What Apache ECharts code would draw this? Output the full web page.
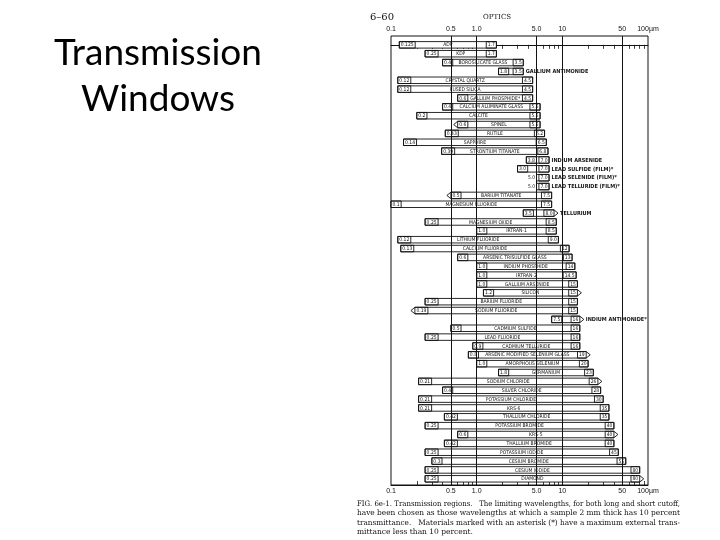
<!DOCTYPE html>
<html>
<head>
<meta charset="utf-8">
<script src="https://cdn.jsdelivr.net/npm/echarts@6/dist/echarts.min.js"></script>
<style>
html, body { margin: 0; padding: 0; background: #fff; }
#main { width: 720px; height: 540px; }
</style>
</head>
<body>
<div id="main"></div>
<script>
// transmission regions, wavelengths in micrometres
var materials = ['ADP', 'KDP', 'BOROSILICATE GLASS', 'GALLIUM ANTIMONIDE', 'CRYSTAL QUARTZ', 'FUSED SILICA',
    'GALLIUM PHOSPHIDE*', 'CALCIUM ALUMINATE GLASS', 'CALCITE', 'SPINEL', 'RUTILE', 'SAPPHIRE',
    'STRONTIUM TITANATE', 'INDIUM ARSENIDE', 'LEAD SULFIDE (FILM)*', 'LEAD SELENIDE (FILM)*',
    'LEAD TELLURIDE (FILM)*', 'BARIUM TITANATE', 'MAGNESIUM FLUORIDE', 'TELLURIUM', 'MAGNESIUM OXIDE',
    'IRTRAN-1', 'LITHIUM FLUORIDE', 'CALCIUM FLUORIDE', 'ARSENIC TRISULFIDE GLASS', 'INDIUM PHOSPHIDE',
    'IRTRAN-2', 'GALLIUM ARSENIDE', 'SILICON', 'BARIUM FLUORIDE', 'SODIUM FLUORIDE', 'INDIUM ANTIMONIDE*',
    'CADMIUM SULFIDE', 'LEAD FLUORIDE', 'CADMIUM TELLURIDE', 'ARSENIC MODIFIED SELENIUM GLASS',
    'AMORPHOUS SELENIUM', 'GERMANIUM', 'SODIUM CHLORIDE', 'SILVER CHLORIDE', 'POTASSIUM CHLORIDE', 'KRS-6',
    'THALLIUM CHLORIDE', 'POTASSIUM BROMIDE', 'KRS-5', 'THALLIUM BROMIDE', 'POTASSIUM IODIDE',
    'CESIUM BROMIDE', 'CESIUM IODIDE', 'DIAMOND'];
var lowCut = [0.125, 0.25, 0.4, 1.8, 0.12, 0.12, 0.6, 0.4, 0.2, 0.6, 0.43, 0.14, 0.39, 3.8, 3.0, 5.0, 5.0,
    0.5, 0.1, 3.5, 0.25, 1.0, 0.12, 0.13, 0.6, 1.0, 1.0, 1.0, 1.2, 0.25, 0.19, 7.5, 0.5, 0.25, 0.9, 0.8,
    1.0, 1.8, 0.21, 0.4, 0.21, 0.21, 0.42, 0.25, 0.6, 0.42, 0.25, 0.3, 0.25, 0.25];
var highCut = [1.7, 1.7, 3.5, 3.5, 4.5, 4.5, 4.5, 5.5, 5.5, 5.5, 6.2, 6.5, 6.8, 7.0, 7.0, 7.0, 7.0, 7.5,
    7.5, 8.0, 8.5, 8.5, 9.0, 12, 13, 14, 14.5, 15, 15, 15, 15, 16, 16, 16, 16, 19, 20, 23, 26, 28, 30, 35,
    35, 40, 40, 40, 45, 55, 80, 80];
var leftOpen = ['SPINEL', 'BARIUM TITANATE', 'SODIUM FLUORIDE'];
var rightOpen = ['TELLURIUM', 'SILICON', 'INDIUM ANTIMONIDE*', 'ARSENIC MODIFIED SELENIUM GLASS',
    'SODIUM CHLORIDE', 'KRS-5', 'DIAMOND'];

var axisLabelValues = [0.1, 0.5, 1, 5, 10, 50, 100];
var axisLabelTexts = ['0.1', '0.5', '1.0', '5.0', '10', '50', '100\u00b5m'];
var tickValues = [0.2, 0.3, 0.4, 0.6, 0.7, 0.8, 0.9, 2, 3, 4, 6, 7, 8, 9, 20, 30, 40, 60, 70, 80, 90];
var gridValues = [0.5, 1, 5, 10, 50];

var captionLines = [
    'FIG. 6e-1. Transmission regions.   The limiting wavelengths, for both long and short cutoff,',
    'have been chosen as those wavelengths at which a sample 2 mm thick has 10 percent',
    'transmittance.   Materials marked with an asterisk (*) have a maximum external trans-',
    'mittance less than 10 percent.'
];

var ink = '#121212';
var nameFont = '5px "DejaVu Sans Condensed", "DejaVu Sans", sans-serif';
var outFont = 'bold 5.5px "DejaVu Sans Condensed", "DejaVu Sans", sans-serif';
var numFont = '5px "DejaVu Sans Condensed", "DejaVu Sans", sans-serif';
var captionFont = '7.5px "DejaVu Serif", serif';

var ctx = document.createElement('canvas').getContext('2d');
function textWidth(s, font) {
    ctx.font = font;
    return ctx.measureText(s).width;
}
function fmt(v) {
    if (v < 10 && Number.isInteger(v)) return v.toFixed(1);
    return String(v);
}
function lg(v) {
    return Math.max(-1, Math.min(2, Math.log10(v)));
}

var seriesData = materials.map(function (m, i) {
    return [Math.log10(lowCut[i]), Math.log10(highCut[i]), i];
});

function renderItem(params, api) {
    var i = params.dataIndex;
    var a = api.coord([api.value(0), api.value(2)]);
    var b = api.coord([api.value(1), api.value(2)]);
    var x0 = a[0], x1 = b[0], y = a[1];
    var h = 6.5, top = y - h / 2, bot = y + h / 2;
    var name = materials[i];
    var loTxt = fmt(lowCut[i]), hiTxt = fmt(highCut[i]);
    var lw = textWidth(loTxt, numFont) + 3;
    var hw = textWidth(hiTxt, numFont) + 3;
    var nw = textWidth(name, nameFont);
    var isL = leftOpen.indexOf(name) >= 0, isR = rightOpen.indexOf(name) >= 0;

    var pts = [[x0, top], [x1, top]];
    if (isR) pts.push([x1 + 4, y]);
    pts.push([x1, bot], [x0, bot]);
    if (isL) pts.push([x0 - 4, y]);

    var children = [{
        type: 'polygon', shape: { points: pts },
        style: { fill: '#fff', stroke: ink, lineWidth: 0.9 }
    }];
    var loOutside = (x1 - x0) < lw + hw + 1;
    if (loOutside) {
        children.push({ type: 'text', style: { text: loTxt, x: x0 - 1.5, y: y, font: numFont, fill: ink,
            textAlign: 'right', textVerticalAlign: 'middle' } });
    } else {
        children.push({ type: 'rect', shape: { x: x0, y: top, width: lw, height: h },
            style: { fill: 'none', stroke: ink, lineWidth: 0.9 } });
        children.push({ type: 'text', style: { text: loTxt, x: x0 + 1.5, y: y + 0.3, font: numFont, fill: ink,
            textAlign: 'left', textVerticalAlign: 'middle' } });
    }
    children.push({ type: 'rect', shape: { x: x1 - hw, y: top, width: hw, height: h },
        style: { fill: 'none', stroke: ink, lineWidth: 0.9 } });
    children.push({ type: 'text', style: { text: hiTxt, x: x1 - 1.5, y: y + 0.3, font: numFont, fill: ink,
        textAlign: 'right', textVerticalAlign: 'middle' } });

    var innerL = loOutside ? x0 : x0 + lw;
    var innerR = x1 - hw;
    if (nw + 2 <= innerR - innerL) {
        var cx = (x0 + x1) / 2;
        cx = Math.max(innerL + nw / 2 + 1, Math.min(innerR - nw / 2 - 1, cx));
        children.push({ type: 'text', style: { text: name, x: cx, y: y + 0.3, font: nameFont, fill: ink,
            textAlign: 'center', textVerticalAlign: 'middle' } });
    } else {
        children.push({ type: 'text', style: { text: name, x: x1 + (isR ? 6 : 2.5), y: y + 0.3, font: outFont,
            fill: ink, textAlign: 'left', textVerticalAlign: 'middle' } });
    }
    return { type: 'group', children: children };
}

function xAxisFor(pos) {
    return {
        type: 'value', position: pos, min: -1, max: 2,
        axisLine: { show: true, lineStyle: { color: ink, width: 1 } },
        axisTick: {
            show: true, inside: true, length: 4,
            customValues: tickValues.map(lg),
            lineStyle: { color: ink, width: 0.8 }
        },
        axisLabel: {
            customValues: axisLabelValues.map(lg),
            color: ink, fontSize: 7, margin: 3,
            fontFamily: '"Liberation Sans", Arial, sans-serif',
            formatter: function (v) {
                for (var k = 0; k < axisLabelValues.length; k++) {
                    if (Math.abs(lg(axisLabelValues[k]) - v) < 1e-6) return axisLabelTexts[k];
                }
                return '';
            }
        },
        splitLine: { show: false }
    };
}

var graphics = [{
    type: 'text', x: 158, y: 30,
    style: {
        text: 'Transmission\nWindows', x: 0, y: 0, fill: '#000',
        font: '37px Lato, "Open Sans", sans-serif', lineHeight: 46,
        textAlign: 'center', textVerticalAlign: 'top'
    }
}, {
    type: 'text', x: 370, y: 12,
    style: { text: '6\u201360', x: 0, y: 0, fill: ink, font: '10px "DejaVu Serif", serif', textVerticalAlign: 'top' }
}, {
    type: 'text', x: 483, y: 14,
    style: { text: 'OPTICS', x: 0, y: 0, fill: ink, font: '7px "DejaVu Serif", serif', textVerticalAlign: 'top' }
}];
captionLines.forEach(function (t, k) {
    var w = textWidth(t, captionFont);
    var sx = k < 3 ? 323 / w : 1;
    graphics.push({
        type: 'text', x: 357, y: 500 + k * 9.5, scaleX: sx,
        style: { text: t, x: 0, y: 0, fill: ink, font: captionFont, textVerticalAlign: 'top' }
    });
});

var chart = echarts.init(document.getElementById('main'), null, { renderer: 'canvas' });
chart.setOption({
    animation: false,
    backgroundColor: '#fff',
    grid: { left: 391, right: 72, top: 36, bottom: 55, show: true, borderColor: ink, borderWidth: 1 },
    xAxis: [xAxisFor('top'), xAxisFor('bottom')],
    yAxis: { type: 'value', inverse: true, min: -1, max: 49.7, show: false },
    graphic: graphics,
    series: [{
        type: 'line', data: [], silent: true, z: 1,
        markLine: {
            symbol: ['none', 'none'], silent: true, animation: false,
            label: { show: false },
            lineStyle: { color: ink, width: 1, type: 'solid' },
            data: gridValues.map(function (v) { return { xAxis: Math.log10(v) }; })
        }
    }, {
        type: 'custom', z: 3, clip: false,
        renderItem: renderItem,
        encode: { x: [0, 1], y: 2 },
        data: seriesData
    }]
});
</script>
</body>
</html>
